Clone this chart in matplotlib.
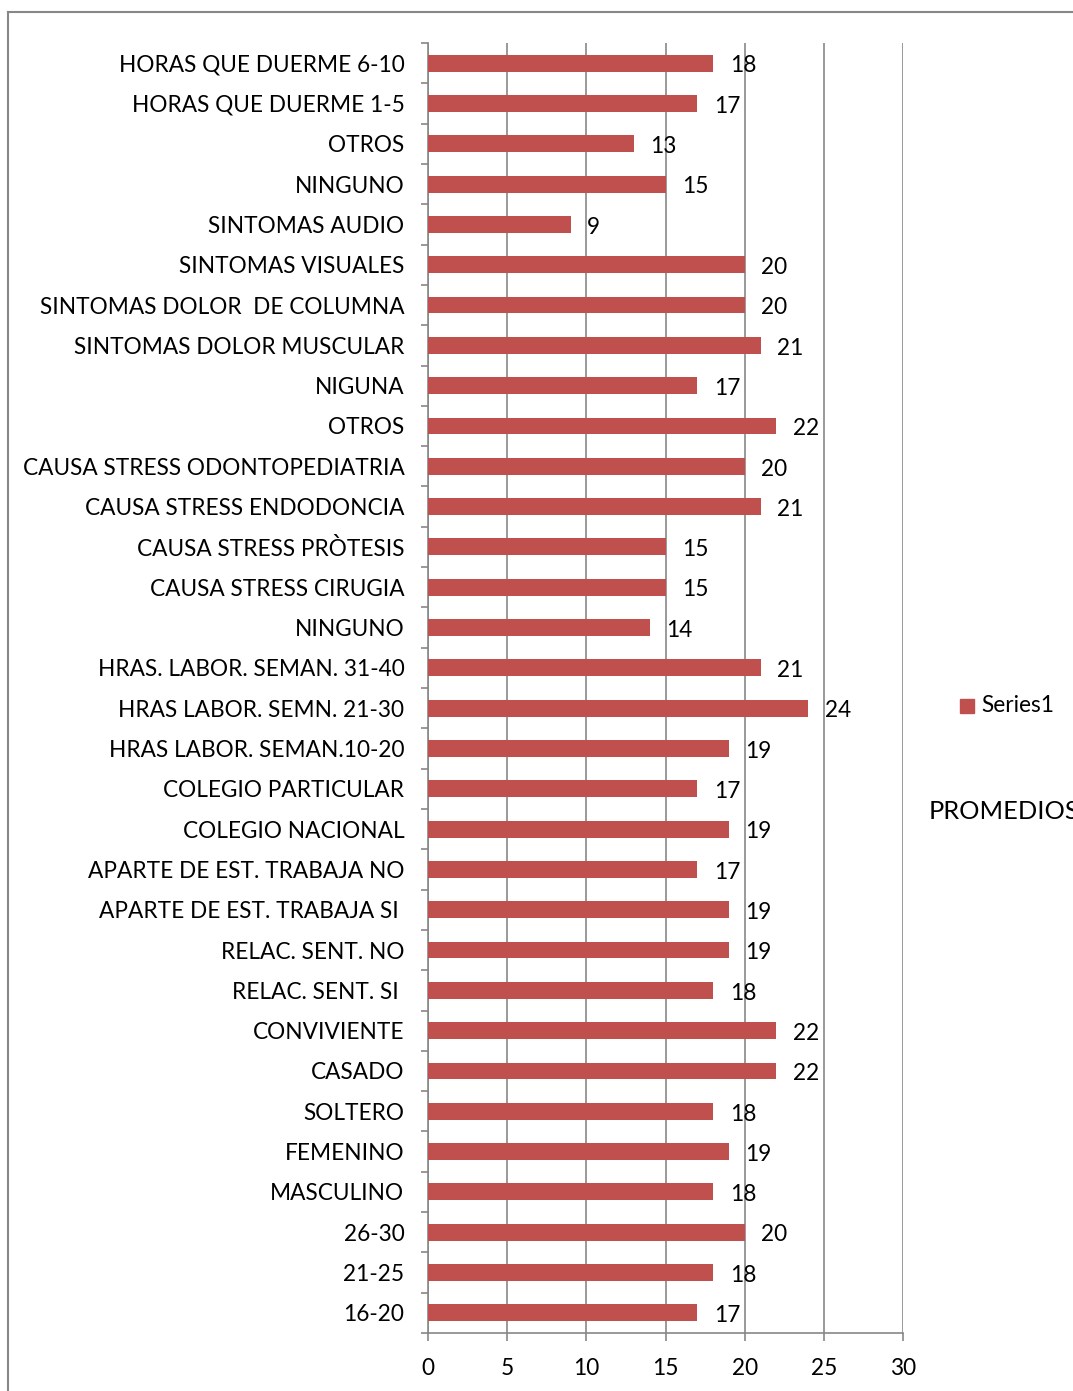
import matplotlib
matplotlib.use("Agg")
import matplotlib.pyplot as plt
from matplotlib.lines import Line2D
from matplotlib.patches import Rectangle

# categories listed top to bottom
categories = [
    "HORAS QUE DUERME 6-10", "HORAS QUE DUERME 1-5", "OTROS", "NINGUNO",
    "SINTOMAS AUDIO", "SINTOMAS VISUALES", "SINTOMAS DOLOR  DE COLUMNA",
    "SINTOMAS DOLOR MUSCULAR", "NIGUNA", "OTROS", "CAUSA STRESS ODONTOPEDIATRIA",
    "CAUSA STRESS ENDODONCIA", "CAUSA STRESS PRÒTESIS", "CAUSA STRESS CIRUGIA",
    "NINGUNO", "HRAS. LABOR. SEMAN. 31-40", "HRAS LABOR. SEMN. 21-30",
    "HRAS LABOR. SEMAN.10-20", "COLEGIO PARTICULAR", "COLEGIO NACIONAL",
    "APARTE DE EST. TRABAJA NO", "APARTE DE EST. TRABAJA SI ", "RELAC. SENT. NO",
    "RELAC. SENT. SI ", "CONVIVIENTE", "CASADO", "SOLTERO", "FEMENINO",
    "MASCULINO", "26-30", "21-25", "16-20",
]
promedios = [18, 17, 13, 15, 9, 20, 20, 21, 17, 22, 20, 21, 15, 15, 14, 21,
             24, 19, 17, 19, 17, 19, 19, 18, 22, 22, 18, 19, 18, 20, 18, 17]
x_ticks = [0, 5, 10, 15, 20, 25, 30]

BAR = "#c0504d"
GRID = "#878787"
FONT = "Lato"
FS = 16.3

W, H = 1073, 1391
fig = plt.figure(figsize=(W / 100, H / 100), dpi=100)
ax = fig.add_axes([428 / W, 1 - 1333 / H, (903 - 428) / W, (1333 - 43) / H])

n = len(categories)
ypos = list(range(n))
ax.barh(ypos, promedios, height=0.42, color=BAR, zorder=3)
ax.set_ylim(n - 0.5, -0.5)
ax.set_xlim(0, 30)

for y, v in zip(ypos, promedios):
    ax.annotate(str(v), (v, y), xytext=(12, -2), textcoords="offset points",
                ha="left", va="center", fontsize=FS, family=FONT, zorder=4)

ax.set_xticks(x_ticks)
ax.set_xticklabels([str(t) for t in x_ticks], fontsize=FS, family=FONT)
ax.set_yticks(ypos)
ax.set_yticklabels(categories, fontsize=FS, family=FONT)
ax.tick_params(axis="y", which="major", length=0, pad=17)
ax.set_yticks([i - 0.5 for i in range(n + 1)], minor=True)
ax.tick_params(axis="y", which="minor", length=5, width=1.2, color=GRID)
ax.tick_params(axis="x", length=6, width=1.2, color=GRID, pad=12)

ax.grid(axis="x", color=GRID, linewidth=1.2, zorder=0)
for side in ["top", "right"]:
    ax.spines[side].set_visible(False)
for side in ["left", "bottom"]:
    ax.spines[side].set_color(GRID)
    ax.spines[side].set_linewidth(1.2)

# legend
fig.patches.append(Rectangle((960 / W, 1 - 713 / H), 14 / W, 14 / H,
                             transform=fig.transFigure, color=BAR))
fig.text(981 / W, 1 - 706 / H, "Series1", fontsize=FS, family=FONT, va="center")
fig.text(929 / W, 1 - 812 / H, "PROMEDIOS", fontsize=FS + 2, family=FONT, va="center")

# outer chart frame (cropped at right and bottom)
fig.lines.append(Line2D([8 / W, 8 / W], [0, 1 - 12 / H], transform=fig.transFigure,
                        color=GRID, linewidth=1.5))
fig.lines.append(Line2D([8 / W, 1], [1 - 12 / H, 1 - 12 / H], transform=fig.transFigure,
                        color=GRID, linewidth=1.5))

fig.savefig("out.png", dpi=100)
